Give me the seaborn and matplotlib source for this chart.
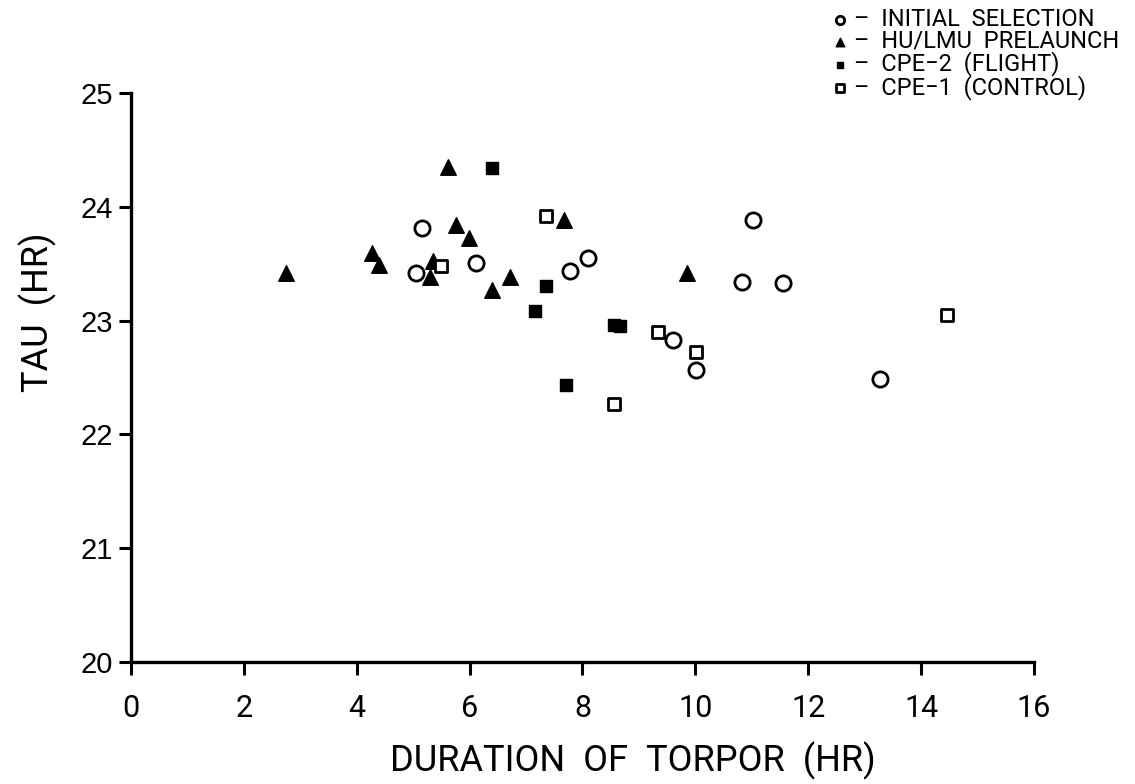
import matplotlib
matplotlib.use("Agg")
import matplotlib.pyplot as plt
import seaborn as sns
import pandas as pd

# Duration of torpor (hr) vs. free-running period tau (hr), by animal group
initial_x = [5.16, 5.05, 6.12, 7.77, 8.10, 9.61, 10.02, 11.03, 10.82, 11.56, 13.28]
initial_y = [23.81, 23.42, 23.51, 23.44, 23.55, 22.83, 22.57, 23.88, 23.34, 23.33, 22.49]

prelaunch_x = [2.75, 4.27, 4.40, 5.35, 5.30, 5.62, 5.76, 5.99, 6.40, 6.72, 7.68, 9.86]
prelaunch_y = [23.42, 23.59, 23.49, 23.52, 23.38, 24.35, 23.84, 23.73, 23.27, 23.38, 23.88, 23.42]

flight_x = [6.40, 7.36, 7.15, 8.55, 8.67, 7.70]
flight_y = [24.34, 23.30, 23.08, 22.96, 22.95, 22.43]

control_x = [5.50, 7.36, 9.33, 10.02, 8.56, 14.45]
control_y = [23.48, 23.92, 22.90, 22.72, 22.27, 23.05]

group_labels = ["INITIAL  SELECTION", "HU/LMU  PRELAUNCH",
                "CPE\u22122  (FLIGHT)", "CPE\u22121  (CONTROL)"]

x_ticks = [0, 2, 4, 6, 8, 10, 12, 14, 16]
y_ticks = [20, 21, 22, 23, 24, 25]

sns.set_style("ticks")
plt.rcParams["font.family"] = ["Roboto", "DejaVu Sans"]
plt.rcParams["text.color"] = "black"
plt.rcParams["axes.labelcolor"] = "black"
plt.rcParams["xtick.color"] = "black"
plt.rcParams["ytick.color"] = "black"
plt.rcParams["axes.edgecolor"] = "black"

fig = plt.figure(figsize=(11.35, 7.84), dpi=100)
ax = fig.add_axes([0.1154, 0.1556, 0.7956, 0.7258])

frames = []
for lab, xs, ys in zip(group_labels,
                       [initial_x, prelaunch_x, flight_x, control_x],
                       [initial_y, prelaunch_y, flight_y, control_y]):
    frames.append(pd.DataFrame({"duration": xs, "tau": ys, "group": lab}))
df = pd.concat(frames, ignore_index=True)

styles = {
    group_labels[0]: dict(marker="o", s=120, facecolor="white", linewidth=2.0),
    group_labels[1]: dict(marker="^", s=125, facecolor="black", linewidth=1.0),
    group_labels[2]: dict(marker="s", s=70, facecolor="black", linewidth=1.0),
    group_labels[3]: dict(marker="s", s=85, facecolor="white", linewidth=2.0),
}

for lab in group_labels:
    st = styles[lab]
    sns.scatterplot(data=df[df["group"] == lab], x="duration", y="tau", ax=ax,
                    marker=st["marker"], s=st["s"], facecolor=st["facecolor"],
                    edgecolor="black", linewidth=st["linewidth"],
                    label="\u2013  " + lab, zorder=3, clip_on=False)

ax.set_xlim(0, 16)
ax.set_ylim(20, 25)
ax.set_xticks(x_ticks)
ax.set_yticks(y_ticks)
ax.set_xticklabels([str(t) for t in x_ticks], fontsize=22)
ax.set_yticklabels([str(t) for t in y_ticks], fontsize=21,
                   family=["Liberation Sans", "DejaVu Sans"])

sns.despine(ax=ax)
for side in ("left", "bottom"):
    ax.spines[side].set_linewidth(2.4)
ax.tick_params(axis="both", direction="out", length=9, width=2.2)
ax.tick_params(axis="x", pad=14)
ax.tick_params(axis="y", pad=4)

ax.set_xlabel("DURATION  OF  TORPOR  (HR)", fontsize=26)
ax.set_ylabel("TAU  (HR)", fontsize=26)
ax.yaxis.set_label_coords(-0.082, 0.615)
ax.xaxis.set_label_coords(0.556, -0.14)

leg = ax.legend(loc="upper right", bbox_to_anchor=(0.999, 1.008),
                bbox_transform=fig.transFigure, frameon=False,
                prop={"family": ["Roboto", "DejaVu Sans"], "size": 17},
                markerscale=0.55, handletextpad=0.1,
                labelspacing=-0.05, borderpad=0.1, handlelength=1.0)

fig.savefig("out.png", dpi=100, facecolor="white")
